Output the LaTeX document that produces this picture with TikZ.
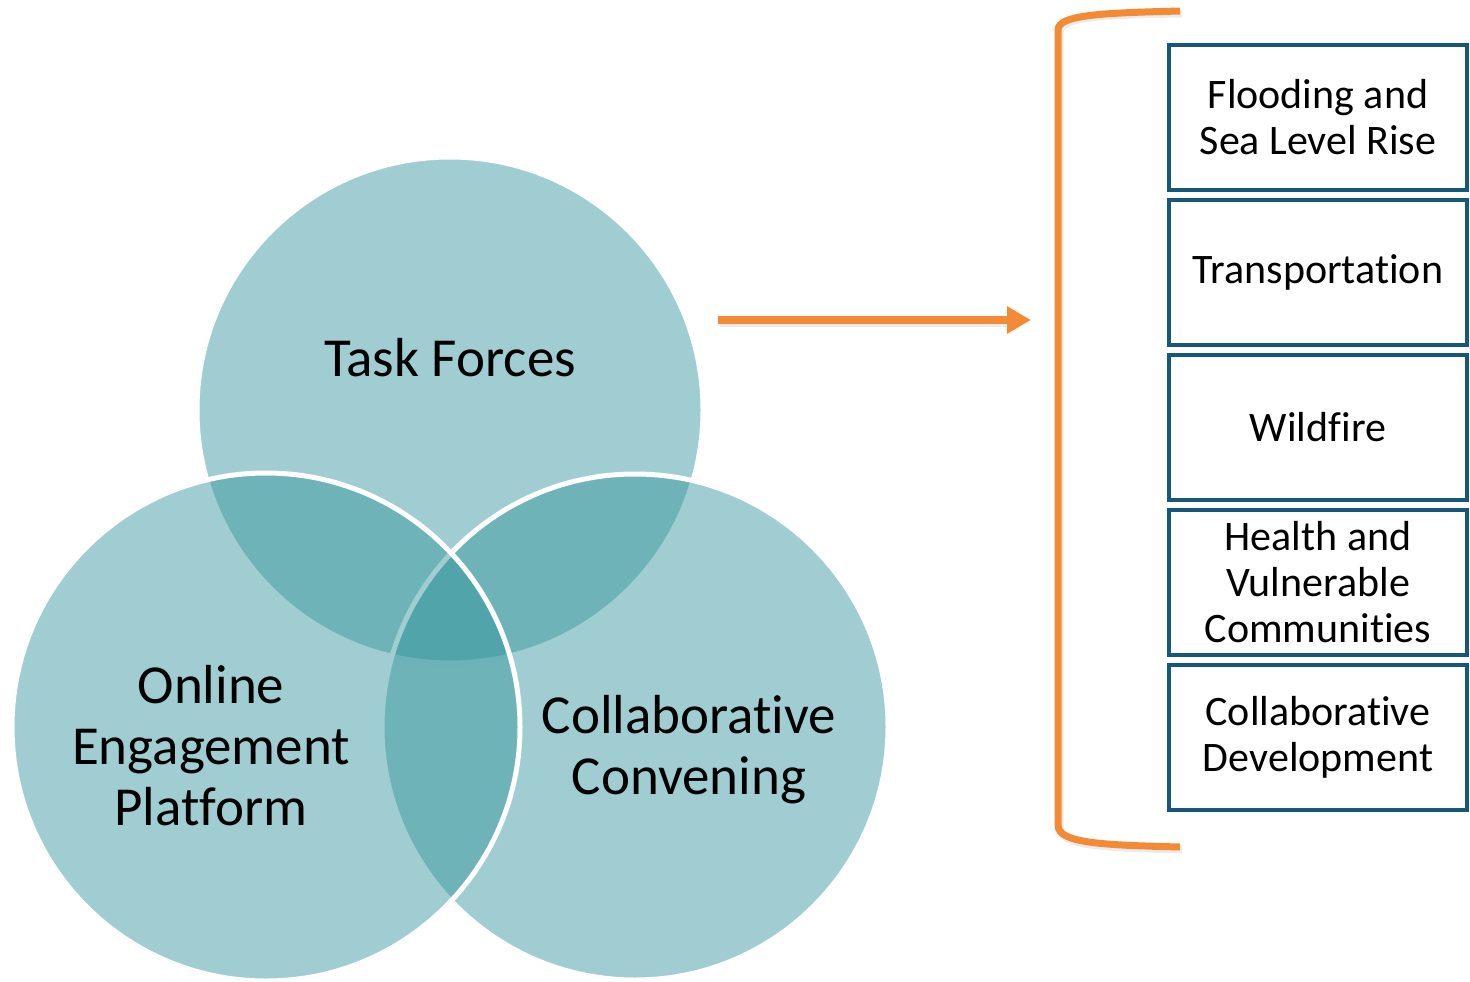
\documentclass[tikz,border=0pt]{standalone}
\usepackage{fontspec}
\setmainfont{Carlito}[RawFeature={-liga;-clig;-calt;-dlig;-rlig;-ccmp}]
\usetikzlibrary{arrows.meta}
\definecolor{teal}{RGB}{49,147,155}
\definecolor{orng}{RGB}{245,138,52}
\definecolor{bblue}{RGB}{22,88,122}
\tikzset{
  venn/.style={fill=teal, fill opacity=0.46, draw=white, line width=5pt},
  bigtxt/.style={font=\fontsize{55}{61}\selectfont, align=center, text=black},
  topic/.style={draw=bblue, line width=4.5pt, fill=white, minimum width=298pt, minimum height=145pt,
    font=\fontsize{42}{46}\selectfont, align=center, inner sep=0pt},
  orngline/.style={draw=orng, line width=7pt},
  shadowline/.style={draw=black!40, line width=7pt, opacity=0.2}
}
\begin{document}
\begin{tikzpicture}[x=1pt,y=-1pt]
\useasboundingbox (0,0) rectangle (1470,982);
% circles: top, right, left
\path[venn] (450,410) circle (253);
\path[venn] (635,727) circle (253);
\path[venn] (266,727) circle (254);
\node[bigtxt] (tf) at (450,358) {Task Forces};
\node[bigtxt] (oep) at (211,746) {Online\\Engagement\\Platform};
\node[bigtxt] (cc) at (689,750) {Collaborative\\Convening};
% arrow
\coordinate (as) at (718,320);
\coordinate (ae) at (1031,320);
\draw[draw=black!40, opacity=0.2, line width=8pt] ([xshift=2pt,yshift=-3pt]as) -- ([xshift=-22pt,yshift=-3pt]ae);
\draw[orngline, line width=8pt, -{Triangle[length=24pt,width=26pt]}, orng] (as) -- (ae);
% bracket
\coordinate (bt) at (1180,11);
\coordinate (bb) at (1180,847);
\draw[shadowline] ([xshift=2pt,yshift=-3pt]bt) .. controls (1102,15) and (1060,17) .. (1060,33) -- (1060,828) .. controls (1060,846) and (1102,848) .. ([xshift=2pt,yshift=-3pt]bb);
\draw[orngline, line cap=butt] (bt) .. controls (1100,13) and (1058,15) .. (1058,30) -- (1058,825) .. controls (1058,843) and (1100,845) .. (bb);
% boxes
\node[topic] (b1) at (1318,117.5) {Flooding and\\Sea Level Rise};
\node[topic] (b2) at (1318,272.5) {Transportation};
\node[topic] (b3) at (1318,427.5) {Wildfire};
\node[topic] (b4) at (1318,582.5) {Health and\\Vulnerable\\Communities};
\node[topic] (b5) at (1318,737.5) {Collaborative\\Development};
\end{tikzpicture}
\end{document}
